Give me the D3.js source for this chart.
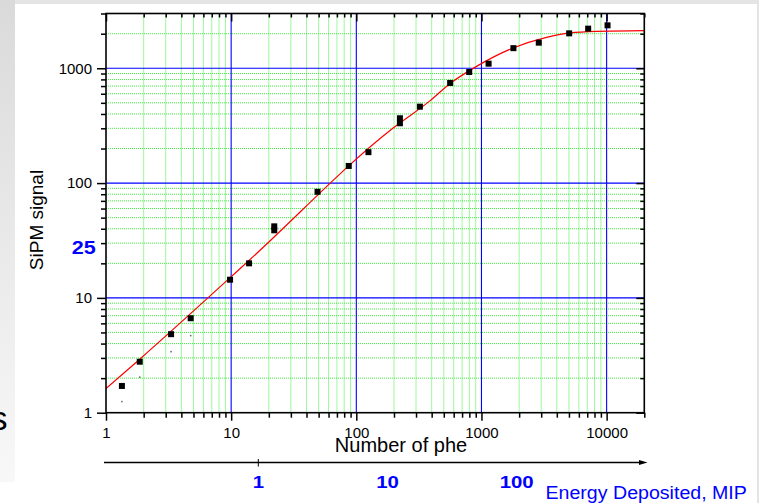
<!DOCTYPE html>
<html>
<head>
<meta charset="utf-8">
<script src="https://cdn.jsdelivr.net/npm/d3@7"></script>
<style>
  body { margin: 0; background: #fff; }
  svg { display: block; font-family: "Liberation Sans", Arial, sans-serif; }
</style>
</head>
<body>
<div id="chart"></div>
<script>
// measured points: number of photoelectrons vs SiPM signal
const phe = [1.34, 1.86, 3.31, 4.75, 9.8, 13.9, 22.1, 22.1, 49, 87, 125, 223, 223, 322, 562, 798, 1140, 1800, 2870, 5020, 7120, 10170];
const signal = [1.71, 2.78, 4.83, 6.65, 14.4, 20.0, 42.0, 38.8, 84, 141, 186, 367, 332, 463, 745, 928, 1097, 1497, 1672, 2015, 2214, 2366];

// tiny faint marks below the first four points
const phe2 = [1.34, 1.86, 3.31, 4.75];
const signal2 = [1.25, 2.04, 3.40, 4.69];

// red saturation fit
const fitPhe = [1, 1.87, 14.1, 197, 387, 559, 914, 1790, 3310, 5080, 8300, 20000];
const fitSignal = [1.62, 2.94, 21.5, 302, 520, 734, 1039, 1503, 1860, 2032, 2098, 2128];

// axes
const xMajor = [1, 10, 100, 1000, 10000];
const xLabels = ["1", "10", "100", "1000", "10000"];
const yMajor = [1, 10, 100, 1000];
const yLabels = ["1", "10", "100", "1000"];
const mipTicks = [1, 10, 100];
const mipLabels = ["1", "10", "100"];

const W = 759, H = 503;
const margin = { top: 13.5, right: W - 644.3, bottom: H - 412.7, left: 106 },
  width = W - margin.left - margin.right,
  height = H - margin.top - margin.bottom;

const svg = d3.select("#chart")
  .append("svg")
  .attr("width", W)
  .attr("height", H);

// slide background
const defs = svg.append("defs");
const grad = defs.append("linearGradient")
  .attr("id", "side").attr("x1", 0).attr("y1", 0).attr("x2", 0).attr("y2", 1);
grad.append("stop").attr("offset", "0%").attr("stop-color", "#dadada");
grad.append("stop").attr("offset", "100%").attr("stop-color", "#f8f8f8");

svg.append("rect").attr("width", W).attr("height", H).attr("fill", "#e4e4e4");
svg.append("rect").attr("x", 0).attr("y", 0).attr("width", 15).attr("height", 482).attr("fill", "url(#side)");
svg.append("rect").attr("x", 0).attr("y", 482).attr("width", 15).attr("height", H - 482).attr("fill", "#fff");
svg.append("rect").attr("x", 15).attr("y", 4).attr("width", 742).attr("height", H - 4).attr("fill", "#fff");

defs.append("clipPath").attr("id", "plotclip")
  .append("rect").attr("width", width).attr("height", height);

const g = svg.append("g")
  .attr("transform", "translate(" + margin.left + "," + margin.top + ")");

const x = d3.scaleLog().domain([1, 20000]).range([0, width]);
const y = d3.scaleLog().domain([1, 3000]).range([height, 0]);

// green dotted minor grid
const xMinor = x.ticks().filter(v => !xMajor.includes(v));
const yMinor = y.ticks().filter(v => !yMajor.includes(v));

g.selectAll(".vminor")
  .data(xMinor)
  .enter().append("line")
  .attr("x1", d => x(d)).attr("x2", d => x(d))
  .attr("y1", 0).attr("y2", height)
  .attr("stroke", "#3cf03c").attr("stroke-width", 1)
  .attr("stroke-dasharray", "1,1");

g.selectAll(".hminor")
  .data(yMinor)
  .enter().append("line")
  .attr("x1", 0).attr("x2", width)
  .attr("y1", d => y(d)).attr("y2", d => y(d))
  .attr("stroke", "#3cf03c").attr("stroke-width", 1)
  .attr("stroke-dasharray", "1,1");

// blue major grid
g.selectAll(".vmajor")
  .data(xMajor.slice(1))
  .enter().append("line")
  .attr("x1", d => x(d)).attr("x2", d => x(d))
  .attr("y1", 0).attr("y2", height)
  .attr("stroke", "#0000ff").attr("stroke-width", 1.1);

g.selectAll(".hmajor")
  .data(yMajor.slice(1))
  .enter().append("line")
  .attr("x1", 0).attr("x2", width)
  .attr("y1", d => y(d)).attr("y2", d => y(d))
  .attr("stroke", "#0000ff").attr("stroke-width", 1.1);

// fit curve
const fit = fitPhe.map((v, i) => [v, fitSignal[i]]);
g.append("path")
  .datum(fit)
  .attr("clip-path", "url(#plotclip)")
  .attr("fill", "none")
  .attr("stroke", "#ff0000")
  .attr("stroke-width", 1.2)
  .attr("d", d3.line()
    .x(d => x(d[0]))
    .y(d => y(d[1]))
    .curve(d3.curveMonotoneX));

// small faint marks
g.selectAll(".faint")
  .data(phe2)
  .enter().append("rect")
  .attr("x", d => x(d) - 0.75)
  .attr("y", (d, i) => y(signal2[i]) - 0.75)
  .attr("width", 1.5).attr("height", 1.5)
  .attr("fill", "#666");

// data points
g.selectAll(".pt")
  .data(phe)
  .enter().append("rect")
  .attr("x", d => x(d) - 3)
  .attr("y", (d, i) => y(signal[i]) - 3)
  .attr("width", 6).attr("height", 6)
  .attr("fill", "#000");

// axes (ticks only, frame drawn separately)
function styleAxis(sel) {
  sel.select(".domain").remove();
  sel.selectAll(".tick line").attr("stroke", "#000").attr("stroke-width", 1.5);
  sel.selectAll("text")
    .attr("fill", "#000")
    .style("font-size", "15px")
    .style("font-family", "'Liberation Sans', Arial, sans-serif");
}

g.append("g").attr("transform", "translate(0," + height + ")")
  .call(d3.axisBottom(x).tickValues(xMajor).tickSize(8).tickPadding(7)
    .tickFormat((d, i) => xLabels[i]))
  .call(styleAxis);
g.append("g").attr("transform", "translate(0," + height + ")")
  .call(d3.axisBottom(x).tickValues(xMinor).tickSize(5).tickFormat(""))
  .call(styleAxis);

g.append("g")
  .call(d3.axisLeft(y).tickValues(yMajor).tickSize(9).tickPadding(5)
    .tickFormat((d, i) => yLabels[i]))
  .call(styleAxis);
g.append("g")
  .call(d3.axisLeft(y).tickValues(yMinor).tickSize(5).tickFormat(""))
  .call(styleAxis);

g.append("g")
  .call(d3.axisTop(x).tickValues(xMajor).tickSize(-8).tickFormat(""))
  .call(styleAxis);
g.append("g")
  .call(d3.axisTop(x).tickValues(xMinor).tickSize(-4).tickFormat(""))
  .call(styleAxis);

g.append("g").attr("transform", "translate(" + width + ",0)")
  .call(d3.axisRight(y).tickValues(yMajor).tickSize(-8).tickFormat(""))
  .call(styleAxis);
g.append("g").attr("transform", "translate(" + width + ",0)")
  .call(d3.axisRight(y).tickValues(yMinor).tickSize(-4).tickFormat(""))
  .call(styleAxis);

// frame
g.append("rect")
  .attr("width", width).attr("height", height)
  .attr("fill", "none").attr("stroke", "#000").attr("stroke-width", 1.6);

// axis titles
svg.append("text")
  .attr("x", 401).attr("y", 451.6)
  .style("text-anchor", "middle")
  .style("font-size", "20px")
  .text("Number of phe");

svg.append("text")
  .attr("transform", "translate(42.7,220)rotate(-90)")
  .style("text-anchor", "middle")
  .style("font-size", "19px")
  .text("SiPM signal");

// "25" marker on the signal axis
svg.append("text")
  .attr("transform", "translate(83.7," + (margin.top + y(25) + 2) + ")scale(1.2,1)")
  .style("text-anchor", "middle")
  .style("font-size", "18px")
  .style("font-weight", "bold")
  .attr("fill", "#0000ff")
  .text("25");

// energy deposited axis
const mip = d3.scaleLog().domain([1, 100]).range([258.3, 516.7]);
const ay = 462.5;
svg.append("line")
  .attr("x1", 104).attr("x2", 641)
  .attr("y1", ay).attr("y2", ay)
  .attr("stroke", "#000").attr("stroke-width", 1.3);
svg.append("path")
  .attr("d", "M647.5," + ay + "L639," + (ay - 2.6) + "L639," + (ay + 2.6) + "Z")
  .attr("fill", "#000");
svg.append("line")
  .attr("x1", mip(1)).attr("x2", mip(1))
  .attr("y1", ay - 3.5).attr("y2", ay + 4)
  .attr("stroke", "#000").attr("stroke-width", 1);

svg.selectAll(".miplabel")
  .data(mipTicks)
  .enter().append("text")
  .attr("transform", d => "translate(" + mip(d) + ",487.5)scale(1.2,1)")
  .style("text-anchor", "middle")
  .style("font-size", "17px")
  .style("font-weight", "bold")
  .attr("fill", "#0000ff")
  .text((d, i) => mipLabels[i]);

svg.append("text")
  .attr("transform", "translate(545.5,499.3)scale(1.12,1)")
  .style("font-size", "17.5px")
  .attr("fill", "#0000ff")
  .text("Energy Deposited, MIP");

// stray slide letter at the left edge
svg.append("text")
  .attr("x", 7.5).attr("y", 430)
  .style("text-anchor", "end")
  .style("font-size", "34px")
  .attr("fill", "#000")
  .text("s");
</script>
</body>
</html>
